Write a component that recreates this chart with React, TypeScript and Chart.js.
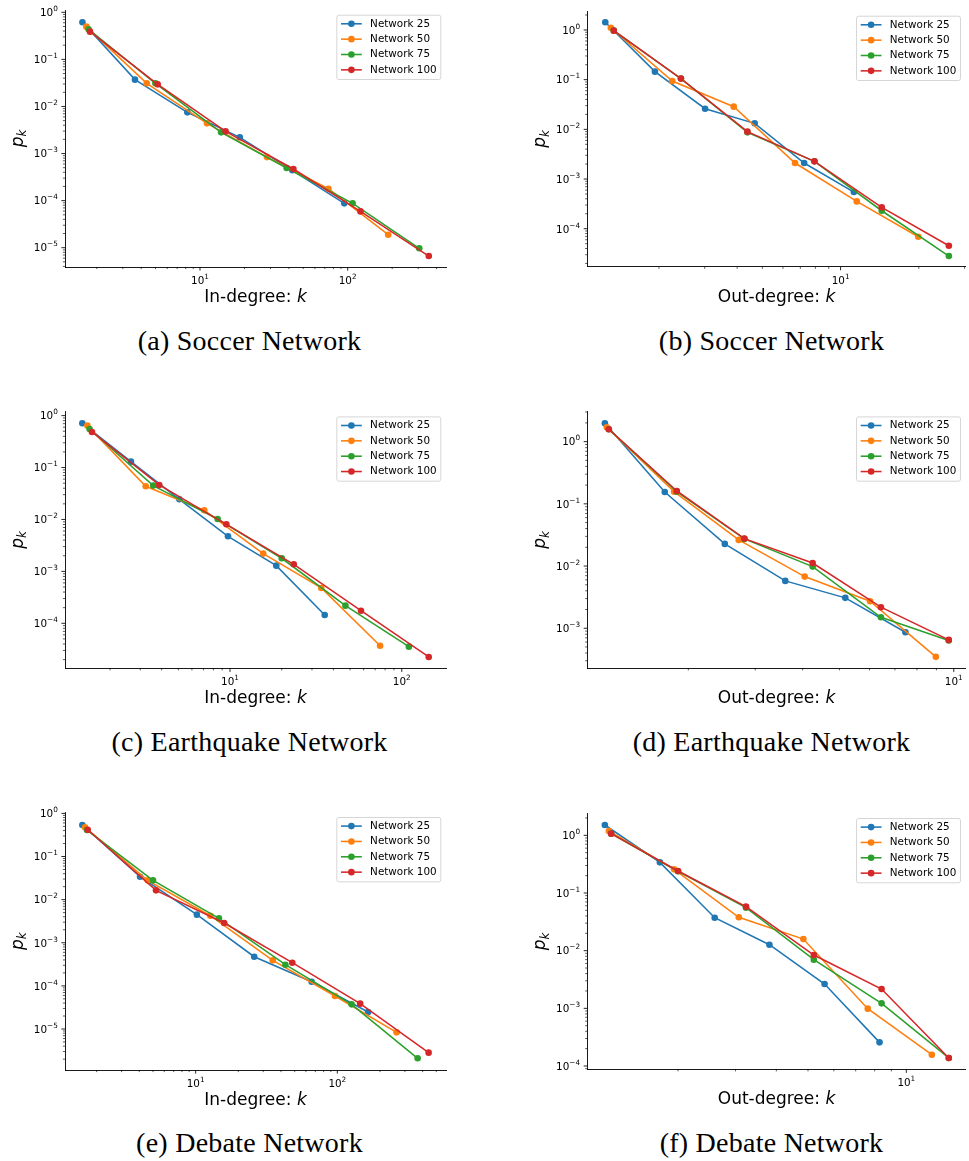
import React, { useEffect, useRef } from 'react';
import { Chart, registerables } from 'chart.js';

Chart.register(...registerables);

const FONT = '"DejaVu Sans", sans-serif';
const COLORS = ['#1f77b4', '#ff7f0e', '#2ca02c', '#d62728'];
const SERIES_NAMES = ['Network 25', 'Network 50', 'Network 75', 'Network 100'];

// (a) Soccer in-degree
const soccerIn25K = [1.60, 3.63, 8.21, 18.6, 42.2, 94.8];
const soccerIn25P = [0.613, 0.0371, 0.0075, 0.00221, 4.4e-4, 8.75e-5];
const soccerIn50K = [1.70, 4.36, 11.15, 28.4, 74.0, 188];
const soccerIn50P = [0.496, 0.031, 0.00438, 8.4e-4, 1.79e-4, 1.89e-5];
const soccerIn75K = [1.76, 4.99, 13.9, 38.6, 108, 305];
const soccerIn75P = [0.435, 0.031, 0.00282, 4.93e-4, 8.75e-5, 9.7e-6];
const soccerIn100K = [1.80, 5.17, 14.9, 42.9, 122, 354];
const soccerIn100P = [0.388, 0.0295, 0.00296, 4.69e-4, 5.9e-5, 6.65e-6];

// (b) Soccer out-degree
const soccerOut25K = [1.243, 1.93, 3.01, 4.67, 7.24, 11.25];
const soccerOut25P = [1.43, 0.145, 0.026, 0.0132, 0.0021, 5.47e-4];
const soccerOut50K = [1.306, 2.25, 3.88, 6.68, 11.54, 19.9];
const soccerOut50P = [1.11, 0.094, 0.0286, 0.0021, 3.55e-4, 6.9e-5];
const soccerOut75K = [1.34, 2.43, 4.38, 7.93, 14.4, 26.1];
const soccerOut75P = [0.97, 0.105, 0.0087, 0.00227, 2.3e-4, 2.82e-5];
const soccerOut100K = [1.34, 2.43, 4.38, 7.93, 14.4, 26.1];
const soccerOut100P = [0.97, 0.105, 0.00898, 0.00227, 2.69e-4, 4.55e-5];

// (c) Earthquake in-degree
const quakeIn25K = [1.38, 2.65, 5.07, 9.73, 18.6, 35.6];
const quakeIn25P = [0.712, 0.130, 0.0245, 0.00474, 0.00129, 1.45e-4];
const quakeIn50K = [1.476, 3.23, 7.08, 15.6, 34.0, 74.8];
const quakeIn50P = [0.642, 0.0435, 0.0150, 0.0022, 4.8e-4, 3.7e-5];
const quakeIn75K = [1.52, 3.57, 8.47, 20.0, 47.0, 110];
const quakeIn75P = [0.553, 0.0449, 0.0102, 0.00179, 2.19e-4, 3.55e-5];
const quakeIn100K = [1.57, 3.87, 9.52, 23.5, 57.9, 143.6];
const quakeIn100P = [0.485, 0.0462, 0.00807, 0.00137, 1.75e-4, 2.25e-5];

// (d) Earthquake out-degree
const quakeOut25K = [1.206, 1.734, 2.495, 3.60, 5.18, 7.46];
const quakeOut25P = [1.97, 0.155, 0.0227, 0.00577, 0.00308, 8.63e-4];
const quakeOut50K = [1.22, 1.835, 2.715, 4.05, 6.02, 8.97];
const quakeOut50P = [1.70, 0.157, 0.0263, 0.00677, 0.00272, 3.47e-4];
const quakeOut75K = [1.235, 1.865, 2.81, 4.25, 6.43, 9.70];
const quakeOut75P = [1.58, 0.157, 0.0273, 0.0098, 0.0015, 6.34e-4];
const quakeOut100K = [1.235, 1.865, 2.81, 4.25, 6.43, 9.70];
const quakeOut100P = [1.58, 0.161, 0.0276, 0.0112, 0.00218, 6.5e-4];

// (e) Debate in-degree
const debateIn25K = [1.585, 4.05, 10.2, 25.9, 65.9, 165];
const debateIn25P = [0.537, 0.034, 0.00448, 4.75e-4, 1.25e-4, 2.48e-5];
const debateIn50K = [1.655, 4.58, 12.7, 35.0, 96.3, 262];
const debateIn50P = [0.474, 0.028, 0.00424, 3.91e-4, 5.82e-5, 8.37e-6];
const debateIn75K = [1.71, 5.0, 14.6, 43.0, 126, 369];
const debateIn75P = [0.411, 0.028, 0.00368, 3.1e-4, 3.73e-5, 2.09e-6];
const debateIn100K = [1.73, 5.25, 15.9, 48.1, 145, 441];
const debateIn100P = [0.418, 0.0164, 0.00287, 3.45e-4, 3.87e-5, 2.83e-6];

// (f) Debate out-degree
const debateOut25K = [1.194, 1.76, 2.59, 3.81, 5.62, 8.28];
const debateOut25P = [1.51, 0.340, 0.0373, 0.0127, 0.00264, 2.57e-4];
const debateOut50K = [1.228, 1.945, 3.07, 4.84, 7.62, 11.97];
const debateOut50P = [1.19, 0.257, 0.0379, 0.0159, 9.87e-4, 1.57e-4];
const debateOut75K = [1.248, 2.0, 3.23, 5.21, 8.40, 13.49];
const debateOut75P = [1.07, 0.238, 0.0557, 0.00698, 0.00122, 1.38e-4];
const debateOut100K = [1.248, 2.0, 3.23, 5.21, 8.40, 13.49];
const debateOut100P = [1.07, 0.241, 0.058, 0.0084, 0.00216, 1.38e-4];

function isDecade(v: number): boolean {
  const e = Math.round(Math.log10(v));
  return Math.abs(v / Math.pow(10, e) - 1) < 1e-6;
}

function buildLogTicks(scale: any) {
  const min = scale.min;
  const max = scale.max;
  const ticks: any[] = [];
  for (let e = Math.floor(Math.log10(min)); e <= Math.ceil(Math.log10(max)); e++) {
    for (let m = 1; m <= 9; m++) {
      const v = m * Math.pow(10, e);
      if (v >= min * 0.99999 && v <= max * 1.00001) ticks.push({ value: v, major: m === 1 });
    }
  }
  scale.ticks = ticks;
}

type Series = { k: number[]; p: number[] };
type PanelSpec = {
  caption: string;
  xTitle: string;
  series: Series[];
  xMin: number; xMax: number; yMin: number; yMax: number;
  area: { L: number; R: number; T: number; B: number };
  canvas: { left: number; top: number; width: number; height: number };
  captionCenter: number;
  captionBaseline: number;
};

const LEFT_CANVAS = { left: 0, width: 484 };
const RIGHT_CANVAS = { left: 484, width: 485 };
const CANVAS_H = 315;

const PANELS: PanelSpec[] = [
  {
    caption: '(a) Soccer Network', xTitle: 'In-degree: ',
    series: [
      { k: soccerIn25K, p: soccerIn25P }, { k: soccerIn50K, p: soccerIn50P },
      { k: soccerIn75K, p: soccerIn75P }, { k: soccerIn100K, p: soccerIn100P },
    ],
    xMin: 1.219, xMax: 463, yMin: 3.89e-6, yMax: 1.119,
    area: { L: 65, R: 446, T: 10, B: 267 },
    canvas: { ...LEFT_CANVAS, top: 0, height: CANVAS_H },
    captionCenter: 249.5, captionBaseline: 350,
  },
  {
    caption: '(b) Soccer Network', xTitle: 'Out-degree: ',
    series: [
      { k: soccerOut25K, p: soccerOut25P }, { k: soccerOut50K, p: soccerOut50P },
      { k: soccerOut75K, p: soccerOut75P }, { k: soccerOut100K, p: soccerOut100P },
    ],
    xMin: 1.06, xMax: 30.3, yMin: 1.72e-5, yMax: 2.41,
    area: { L: 587.3, R: 968, T: 11, B: 266.7 },
    canvas: { ...RIGHT_CANVAS, top: 0, height: CANVAS_H },
    captionCenter: 771.5, captionBaseline: 350,
  },
  {
    caption: '(c) Earthquake Network', xTitle: 'In-degree: ',
    series: [
      { k: quakeIn25K, p: quakeIn25P }, { k: quakeIn50K, p: quakeIn50P },
      { k: quakeIn75K, p: quakeIn75P }, { k: quakeIn100K, p: quakeIn100P },
    ],
    xMin: 1.094, xMax: 181, yMin: 1.36e-5, yMax: 1.19,
    area: { L: 65, R: 446, T: 411.7, B: 668.3 },
    canvas: { ...LEFT_CANVAS, top: 400, height: CANVAS_H },
    captionCenter: 249.5, captionBaseline: 751.7,
  },
  {
    caption: '(d) Earthquake Network', xTitle: 'Out-degree: ',
    series: [
      { k: quakeOut25K, p: quakeOut25P }, { k: quakeOut50K, p: quakeOut50P },
      { k: quakeOut75K, p: quakeOut75P }, { k: quakeOut100K, p: quakeOut100P },
    ],
    xMin: 1.084, xMax: 10.75, yMin: 2.27e-4, yMax: 3.03,
    area: { L: 587.3, R: 968, T: 411.7, B: 668.3 },
    canvas: { ...RIGHT_CANVAS, top: 400, height: CANVAS_H },
    captionCenter: 771.5, captionBaseline: 751.7,
  },
  {
    caption: '(e) Debate Network', xTitle: 'In-degree: ',
    series: [
      { k: debateIn25K, p: debateIn25P }, { k: debateIn50K, p: debateIn50P },
      { k: debateIn75K, p: debateIn75P }, { k: debateIn100K, p: debateIn100P },
    ],
    xMin: 1.196, xMax: 585, yMin: 1.12e-6, yMax: 1.06,
    area: { L: 65, R: 446, T: 812.3, B: 1070 },
    canvas: { ...LEFT_CANVAS, top: 800, height: CANVAS_H },
    captionCenter: 249.5, captionBaseline: 1152.3,
  },
  {
    caption: '(f) Debate Network', xTitle: 'Out-degree: ',
    series: [
      { k: debateOut25K, p: debateOut25P }, { k: debateOut50K, p: debateOut50P },
      { k: debateOut75K, p: debateOut75P }, { k: debateOut100K, p: debateOut100P },
    ],
    xMin: 1.055, xMax: 15.2, yMin: 8.77e-5, yMax: 2.41,
    area: { L: 587.3, R: 968, T: 813.3, B: 1069.3 },
    canvas: { ...RIGHT_CANVAS, top: 800, height: CANVAS_H },
    captionCenter: 771.5, captionBaseline: 1152.3,
  },
];

type Run = { text: string; font: string; dy?: number };

function drawRuns(ctx: CanvasRenderingContext2D, runs: Run[], x: number, baseline: number, align: 'center' | 'right') {
  let total = 0;
  const widths = runs.map((r) => {
    ctx.font = r.font;
    const w = ctx.measureText(r.text).width;
    total += w;
    return w;
  });
  let cx = align === 'center' ? x - total / 2 : x - total;
  ctx.textAlign = 'left';
  ctx.textBaseline = 'alphabetic';
  runs.forEach((r, i) => {
    ctx.font = r.font;
    ctx.fillText(r.text, cx, baseline + (r.dy || 0));
    cx += widths[i];
  });
}

function powRuns(v: number): Run[] {
  const e = Math.round(Math.log10(v));
  return [
    { text: '10', font: `10.4px ${FONT}` },
    { text: String(e).replace('-', '\u2212'), font: `7.3px ${FONT}`, dy: -5 },
  ];
}

function roundRectPath(ctx: CanvasRenderingContext2D, x: number, y: number, w: number, h: number, r: number) {
  ctx.beginPath();
  ctx.moveTo(x + r, y);
  ctx.lineTo(x + w - r, y);
  ctx.arcTo(x + w, y, x + w, y + r, r);
  ctx.lineTo(x + w, y + h - r);
  ctx.arcTo(x + w, y + h, x + w - r, y + h, r);
  ctx.lineTo(x + r, y + h);
  ctx.arcTo(x, y + h, x, y + h - r, r);
  ctx.lineTo(x, y + r);
  ctx.arcTo(x, y, x + r, y, r);
  ctx.closePath();
}

function decorPlugin(spec: PanelSpec) {
  return {
    id: 'mplDecor',
    afterDraw(chart: any) {
      const ctx: CanvasRenderingContext2D = chart.ctx;
      const { left, right, top, bottom } = chart.chartArea;
      const xs = chart.scales.x;
      const ys = chart.scales.y;
      ctx.save();
      ctx.strokeStyle = '#000';
      ctx.fillStyle = '#000';
      // tick marks and decade labels
      xs.ticks.forEach((t: any) => {
        const px = xs.getPixelForValue(t.value);
        if (px < left - 0.5 || px > right + 0.5) return;
        const major = isDecade(t.value);
        ctx.lineWidth = major ? 0.85 : 0.65;
        ctx.beginPath();
        ctx.moveTo(px, bottom);
        ctx.lineTo(px, bottom + (major ? 3.6 : 2.1));
        ctx.stroke();
        if (major) drawRuns(ctx, powRuns(t.value), px, bottom + 17, 'center');
      });
      ys.ticks.forEach((t: any) => {
        const py = ys.getPixelForValue(t.value);
        if (py < top - 0.5 || py > bottom + 0.5) return;
        const major = isDecade(t.value);
        ctx.lineWidth = major ? 0.85 : 0.65;
        ctx.beginPath();
        ctx.moveTo(left, py);
        ctx.lineTo(left - (major ? 3.6 : 2.1), py);
        ctx.stroke();
        if (major) drawRuns(ctx, powRuns(t.value), left - 7.2, py + 3.8, 'right');
      });

      // axis titles
      drawRuns(ctx, [
        { text: spec.xTitle, font: `17px ${FONT}` },
        { text: 'k', font: `italic 17px ${FONT}` },
      ], (left + right) / 2, bottom + 35, 'center');

      ctx.save();
      ctx.translate(left - 42.4, (top + bottom) / 2);
      ctx.rotate(-Math.PI / 2);
      drawRuns(ctx, [
        { text: 'p', font: `italic 17px ${FONT}` },
        { text: 'k', font: `italic 12px ${FONT}`, dy: 3.6 },
      ], 0, 0, 'center');
      ctx.restore();

      // legend
      const fs = 10.4;
      ctx.font = `${fs}px ${FONT}`;
      const tw = Math.max(...SERIES_NAMES.map((s) => ctx.measureText(s).width));
      const pad = 0.4 * fs;
      const hl = 2 * fs;
      const htp = 0.8 * fs;
      const w = pad * 2 + hl + htp + tw;
      const h = 64.3;
      const x0 = right - 0.5 * fs - w;
      const y0 = top + 0.5 * fs;
      roundRectPath(ctx, x0, y0, w, h, 2);
      ctx.fillStyle = 'rgba(255,255,255,0.8)';
      ctx.fill();
      ctx.strokeStyle = 'rgba(204,204,204,0.8)';
      ctx.lineWidth = 1;
      ctx.stroke();
      chart.data.datasets.forEach((ds: any, i: number) => {
        const cy = y0 + 8.6 + i * 15.35;
        ctx.strokeStyle = ds.borderColor;
        ctx.lineWidth = 1.56;
        ctx.beginPath();
        ctx.moveTo(x0 + pad, cy);
        ctx.lineTo(x0 + pad + hl, cy);
        ctx.stroke();
        ctx.fillStyle = ds.borderColor;
        ctx.beginPath();
        ctx.arc(x0 + pad + hl / 2, cy, 3.3, 0, Math.PI * 2);
        ctx.fill();
        ctx.fillStyle = '#000';
        ctx.font = `${fs}px ${FONT}`;
        ctx.textAlign = 'left';
        ctx.textBaseline = 'middle';
        ctx.fillText(ds.label, x0 + pad + hl + htp, cy);
      });
      ctx.restore();
    },
  };
}

function Panel({ spec }: { spec: PanelSpec }) {
  const ref = useRef<HTMLCanvasElement>(null);
  useEffect(() => {
    const cv = spec.canvas;
    const yW = spec.area.L - cv.left;
    const xH = 40;
    const padTop = spec.area.T - cv.top;
    const padRight = cv.left + cv.width - spec.area.R;
    const padBottom = cv.top + cv.height - spec.area.B - xH;
    const chart = new Chart(ref.current as HTMLCanvasElement, {
      type: 'scatter',
      data: {
        datasets: spec.series.map((s, i) => ({
          label: SERIES_NAMES[i],
          data: s.k.map((k, j) => ({ x: k, y: s.p[j] })),
          showLine: true,
          borderColor: COLORS[i],
          backgroundColor: COLORS[i],
          borderWidth: 1.56,
          pointRadius: 3.3,
          pointHoverRadius: 3.3,
          pointBorderWidth: 0,
          pointBackgroundColor: COLORS[i],
          tension: 0,
          order: 3 - i,
          clip: false as any,
        })),
      },
      options: {
        responsive: false,
        animation: false,
        events: [],
        layout: { padding: { left: 0, top: padTop, right: padRight, bottom: padBottom } },
        plugins: { legend: { display: false }, tooltip: { enabled: false } },
        scales: {
          x: {
            type: 'logarithmic',
            position: 'bottom',
            min: spec.xMin,
            max: spec.xMax,
            afterBuildTicks: buildLogTicks,
            afterFit: (s: any) => { s.height = xH; },
            grid: { display: false, drawTicks: false },
            border: { display: true, color: '#000', width: 0.9 },
            ticks: { display: false, autoSkip: false, maxRotation: 0, minRotation: 0 },
          },
          y: {
            type: 'logarithmic',
            position: 'left',
            min: spec.yMin,
            max: spec.yMax,
            afterBuildTicks: buildLogTicks,
            afterFit: (s: any) => { s.width = yW; },
            grid: { display: false, drawTicks: false },
            border: { display: true, color: '#000', width: 0.9 },
            ticks: { display: false, autoSkip: false },
          },
        },
      } as any,
      plugins: [decorPlugin(spec)],
    });
    return () => chart.destroy();
  }, [spec]);
  const cv = spec.canvas;
  return (
    <canvas
      ref={ref}
      width={cv.width}
      height={cv.height}
      style={{ position: 'absolute', left: cv.left, top: cv.top, width: cv.width, height: cv.height, display: 'block' }}
    />
  );
}

export default function App() {
  const capFont = 28;
  return (
    <div style={{ position: 'absolute', left: 0, top: 0, width: 969, height: 1161, overflow: 'hidden', background: '#fff' }}>
      {PANELS.map((p, i) => (
        <Panel key={'p' + i} spec={p} />
      ))}
      {PANELS.map((p, i) => (
        <div
          key={'c' + i}
          style={{
            position: 'absolute',
            left: p.captionCenter - 200,
            width: 400,
            textAlign: 'center',
            top: p.captionBaseline - 25.45,
            fontFamily: '"Liberation Serif", serif',
            fontSize: capFont,
            lineHeight: '32px',
            letterSpacing: '0.25px',
            whiteSpace: 'nowrap',
            color: '#000',
          }}
        >
          {p.caption}
        </div>
      ))}
    </div>
  );
}
